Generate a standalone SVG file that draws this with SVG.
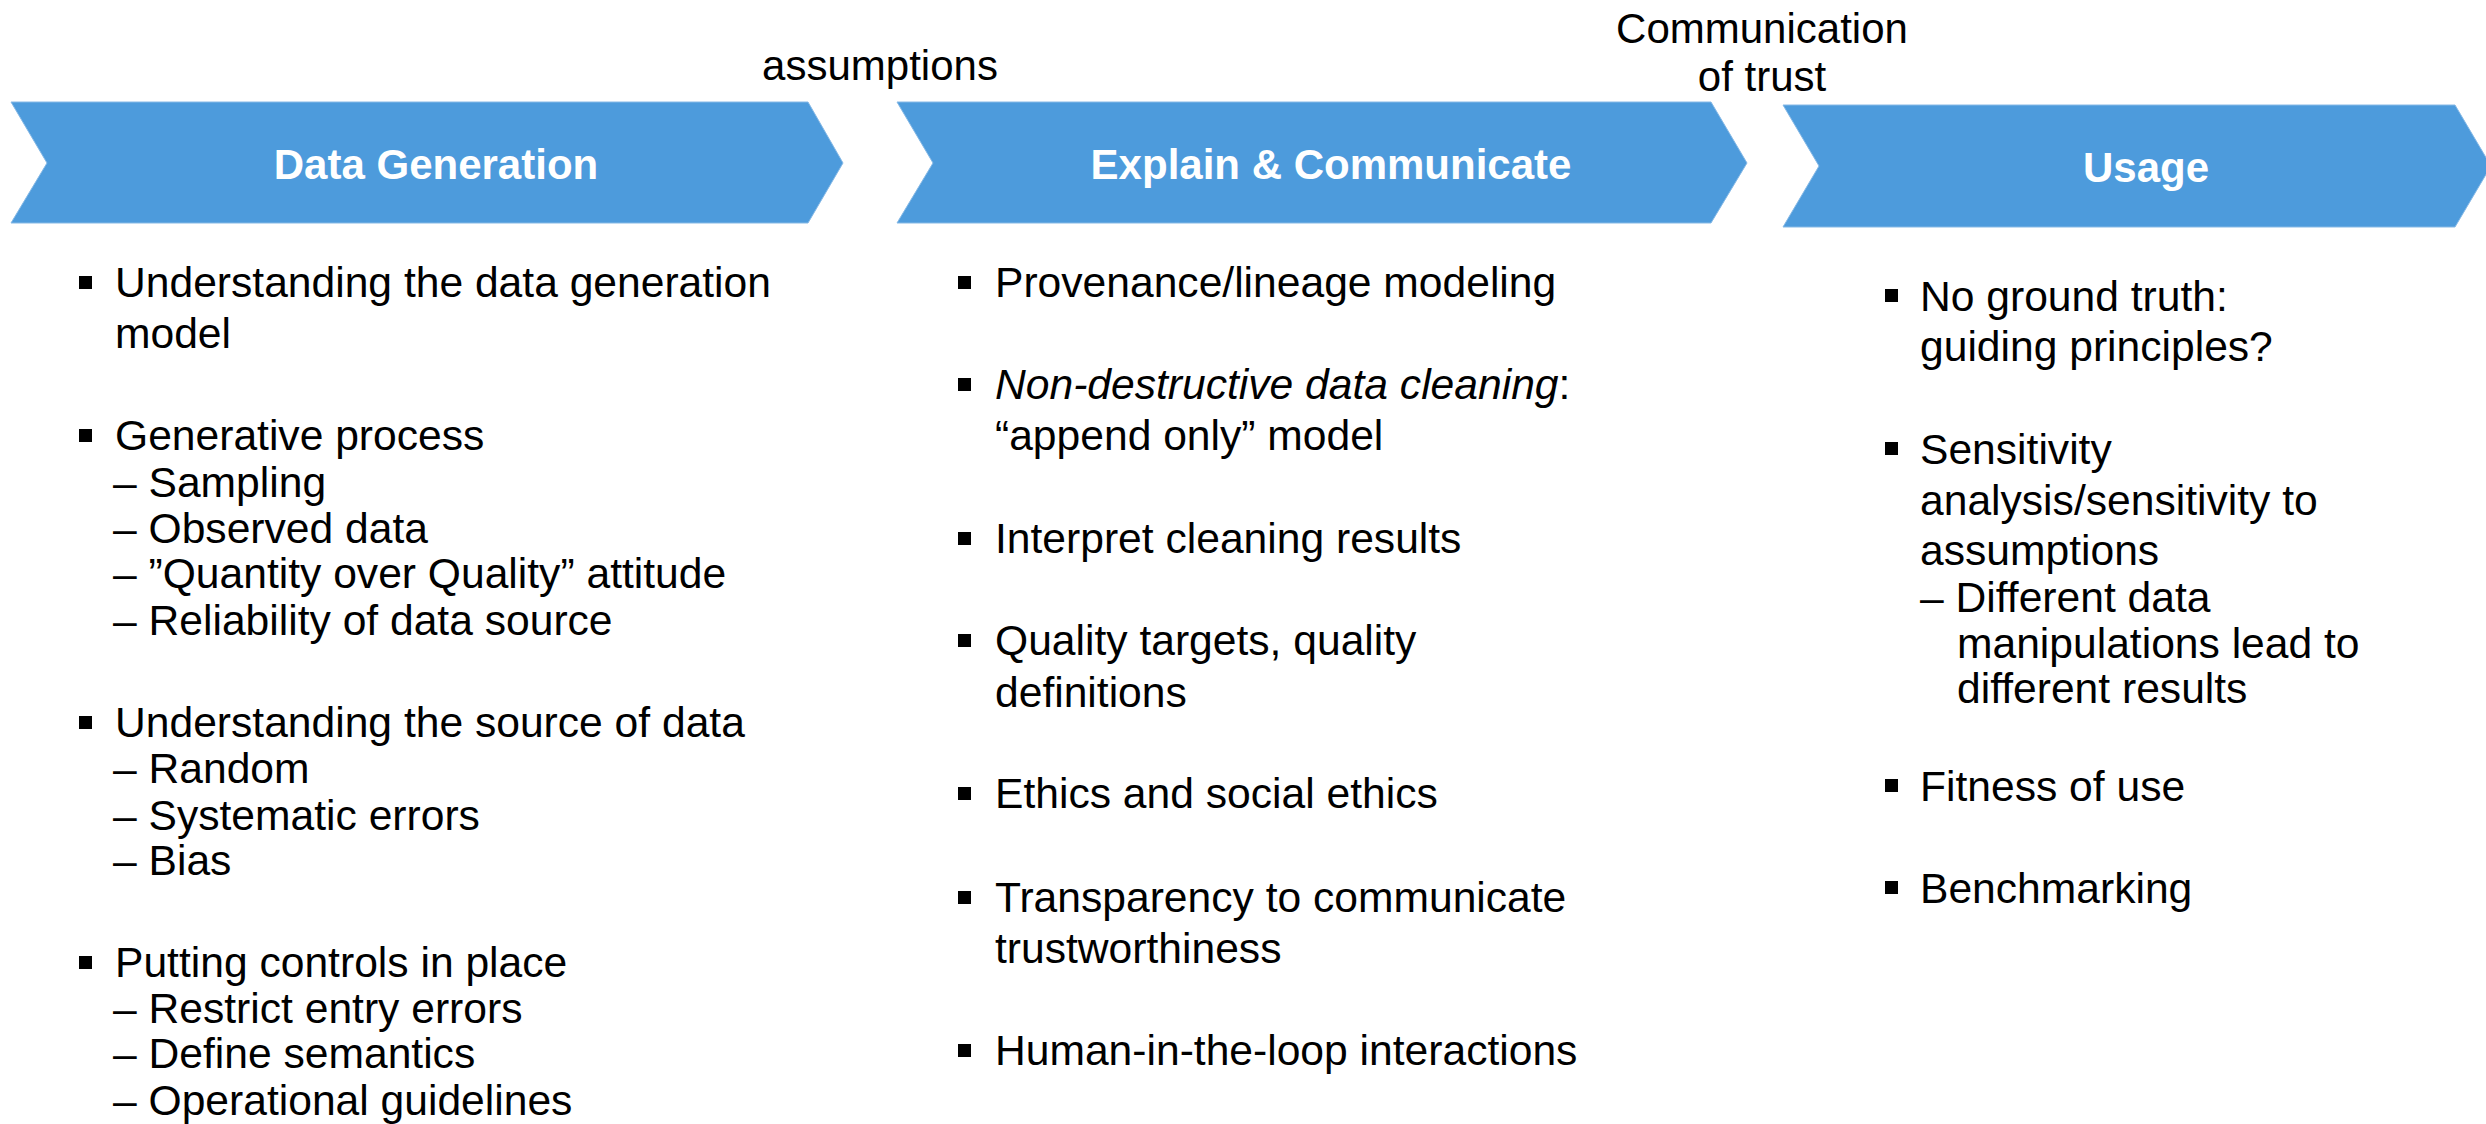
<svg xmlns="http://www.w3.org/2000/svg" width="2486" height="1124" viewBox="0 0 2486 1124">
  <style>
    .chev { fill: #4d9bdc; stroke: #86b9e6; stroke-width: 1; }
    .head { font-family: "Liberation Sans", Arial, sans-serif; font-size: 42px; font-weight: bold; fill: #ffffff; text-anchor: middle; }
    .lbl { font-family: "Liberation Sans", Arial, sans-serif; font-size: 42px; fill: #000000; text-anchor: middle; }
    .body { font-family: "Liberation Sans", Arial, sans-serif; font-size: 42.6px; fill: #000000; }
    .it { font-style: italic; }
    .bul { fill: #000000; }
  </style>

  <!-- stage 1 -->
  <g id="data-generation">
    <polygon class="chev" points="11,102 808,102 843,163 808,223 11,223 47,163"/>
    <text class="head" x="436" y="179">Data Generation</text>
    <rect class="bul" x="79" y="276" width="13" height="13"/>
    <text class="body" x="115" y="297">Understanding the data generation</text>
    <text class="body" x="115" y="348">model</text>
    <rect class="bul" x="79" y="429" width="13" height="13"/>
    <text class="body" x="115" y="450">Generative process</text>
    <text class="body" x="113" y="497">– Sampling</text>
    <text class="body" x="113" y="543">– Observed data</text>
    <text class="body" x="113" y="588">– ”Quantity over Quality” attitude</text>
    <text class="body" x="113" y="635">– Reliability of data source</text>
    <rect class="bul" x="79" y="716" width="13" height="13"/>
    <text class="body" x="115" y="737">Understanding the source of data</text>
    <text class="body" x="113" y="783">– Random</text>
    <text class="body" x="113" y="830">– Systematic errors</text>
    <text class="body" x="113" y="875">– Bias</text>
    <rect class="bul" x="79" y="956" width="13" height="13"/>
    <text class="body" x="115" y="977">Putting controls in place</text>
    <text class="body" x="113" y="1023">– Restrict entry errors</text>
    <text class="body" x="113" y="1068">– Define semantics</text>
    <text class="body" x="113" y="1115">– Operational guidelines</text>
  </g>

  <!-- stage 2 -->
  <g id="explain-communicate">
    <polygon class="chev" points="897,102 1711,102 1747,163 1711,223 897,223 933,163"/>
    <text class="head" x="1331" y="179">Explain &amp; Communicate</text>
    <rect class="bul" x="958" y="276" width="13" height="13"/>
    <text class="body" x="995" y="297">Provenance/lineage modeling</text>
    <rect class="bul" x="958" y="378" width="13" height="13"/>
    <text class="body" x="995" y="399"><tspan class="it">Non-destructive data cleaning</tspan>:</text>
    <text class="body" x="995" y="450">“append only” model</text>
    <rect class="bul" x="958" y="532" width="13" height="13"/>
    <text class="body" x="995" y="553">Interpret cleaning results</text>
    <rect class="bul" x="958" y="634" width="13" height="13"/>
    <text class="body" x="995" y="655">Quality targets, quality</text>
    <text class="body" x="995" y="707">definitions</text>
    <rect class="bul" x="958" y="787" width="13" height="13"/>
    <text class="body" x="995" y="808">Ethics and social ethics</text>
    <rect class="bul" x="958" y="891" width="13" height="13"/>
    <text class="body" x="995" y="912">Transparency to communicate</text>
    <text class="body" x="995" y="963">trustworthiness</text>
    <rect class="bul" x="958" y="1044" width="13" height="13"/>
    <text class="body" x="995" y="1065">Human-in-the-loop interactions</text>
  </g>

  <!-- stage 3 -->
  <g id="usage">
    <polygon class="chev" points="1783,105 2455,105 2491,166 2455,227 1783,227 1819,166"/>
    <text class="head" x="2146" y="182">Usage</text>
    <rect class="bul" x="1885" y="289" width="13" height="13"/>
    <text class="body" x="1920" y="311">No ground truth:</text>
    <text class="body" x="1920" y="361">guiding principles?</text>
    <rect class="bul" x="1885" y="442" width="13" height="13"/>
    <text class="body" x="1920" y="464">Sensitivity</text>
    <text class="body" x="1920" y="515">analysis/sensitivity to</text>
    <text class="body" x="1920" y="565">assumptions</text>
    <text class="body" x="1920" y="612">– Different data</text>
    <text class="body" x="1957" y="658">manipulations lead to</text>
    <text class="body" x="1957" y="703">different results</text>
    <rect class="bul" x="1885" y="779" width="13" height="13"/>
    <text class="body" x="1920" y="801">Fitness of use</text>
    <rect class="bul" x="1885" y="881" width="13" height="13"/>
    <text class="body" x="1920" y="903">Benchmarking</text>
  </g>

  <!-- labels on the hand-offs between stages -->
  <g id="connectors">
    <text class="lbl" x="880" y="80">assumptions</text>
    <text class="lbl" x="1762" y="43">Communication</text>
    <text class="lbl" x="1762" y="91">of trust</text>
  </g>
</svg>
